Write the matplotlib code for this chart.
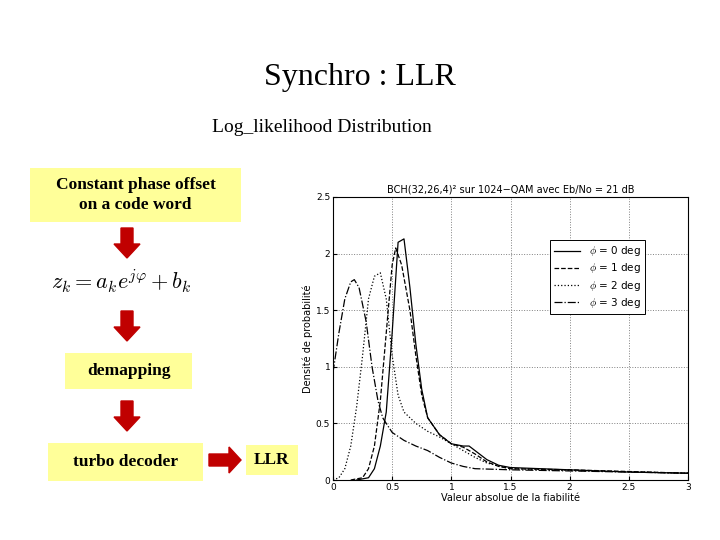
import matplotlib
matplotlib.use("Agg")
import matplotlib.pyplot as plt
from matplotlib.patches import Rectangle, FancyArrow

x0 = [0.2,0.3,0.35,0.4,0.45,0.5,0.55,0.6,0.65,0.7,0.75,0.8,0.9,1.0,1.1,1.15,1.2,1.3,1.4,1.5,2.0,2.5,3.0]
y0 = [0,0.02,0.1,0.3,0.6,1.3,2.1,2.13,1.7,1.2,0.8,0.55,0.4,0.32,0.3,0.3,0.26,0.18,0.13,0.11,0.09,0.07,0.06]
x1 = [0.15,0.25,0.3,0.35,0.4,0.45,0.5,0.53,0.58,0.65,0.7,0.75,0.8,0.9,1.0,1.1,1.2,1.3,1.4,1.5,2.0,3.0]
y1 = [0,0.02,0.1,0.3,0.7,1.3,1.9,2.05,1.9,1.5,1.1,0.75,0.55,0.4,0.32,0.29,0.23,0.16,0.12,0.1,0.09,0.06]
x2 = [0,0.05,0.1,0.15,0.2,0.25,0.3,0.35,0.4,0.45,0.5,0.55,0.6,0.7,0.8,0.9,1.0,1.1,1.2,1.3,1.5,2.0,3.0]
y2 = [0,0.02,0.1,0.3,0.65,1.1,1.6,1.8,1.83,1.6,1.1,0.75,0.6,0.5,0.43,0.38,0.32,0.26,0.2,0.15,0.1,0.085,0.06]
x3 = [0,0.05,0.1,0.15,0.18,0.22,0.28,0.33,0.38,0.42,0.45,0.5,0.6,0.7,0.8,0.9,1.0,1.1,1.2,1.5,2.0,3.0]
y3 = [0.95,1.3,1.6,1.75,1.77,1.7,1.4,1.0,0.7,0.55,0.5,0.42,0.35,0.3,0.26,0.2,0.15,0.12,0.1,0.09,0.08,0.06]
labels = [r"$\phi$ = 0 deg", r"$\phi$ = 1 deg", r"$\phi$ = 2 deg", r"$\phi$ = 3 deg"]

plt.rcParams["mathtext.fontset"] = "cm"
W, H = 720, 540
fig = plt.figure(figsize=(7.2, 5.4), dpi=100)
bg = fig.add_axes([0, 0, 1, 1])
bg.set_xlim(0, W); bg.set_ylim(H, 0); bg.axis("off")

serif = "Liberation Serif"
bg.text(360, 77, "Synchro : LLR", ha="center", va="center", fontsize=23, family=serif)
bg.text(322, 127, "Log_likelihood Distribution", ha="center", va="center", fontsize=14, family=serif)

yellow = "#FFFF99"
red = "#C00000"
def box(x, y, w, h, txt):
    bg.add_patch(Rectangle((x, y), w, h, facecolor=yellow, edgecolor="none"))
    bg.text(x + w / 2, y + h / 2, txt, ha="center", va="center", fontsize=12.5,
            family=serif, fontweight="bold", linespacing=1.3)
box(30, 168, 211, 54, "Constant phase offset\non a code word")
box(65, 353, 127, 36, "demapping")
box(48, 443, 155, 38, "turbo decoder")
box(246, 445, 52, 30, "LLR")

def down(xc, ytop):
    bg.add_patch(FancyArrow(xc, ytop, 0, 30, width=12, head_width=26, head_length=14,
                            length_includes_head=True, color=red))
down(127, 228); down(127, 311); down(127, 401)
bg.add_patch(FancyArrow(209, 460, 32, 0, width=12, head_width=26, head_length=12,
                        length_includes_head=True, color=red))
bg.text(121, 281, r"$z_k = a_k e^{j\varphi} + b_k$", ha="center", va="center", fontsize=16)

ax = fig.add_axes([333 / W, 1 - 480 / H, 355 / W, 283 / H])
ax.plot(x0, y0, "k-", lw=0.9, label=labels[0])
ax.plot(x1, y1, "k--", lw=0.9, label=labels[1])
ax.plot(x2, y2, "k:", lw=0.9, label=labels[2])
ax.plot(x3, y3, "k-.", lw=0.9, label=labels[3])
ax.set_xlim(0, 3); ax.set_ylim(0, 2.5)
ax.set_xticks([0, 0.5, 1, 1.5, 2, 2.5, 3])
ax.set_xticklabels(["0", "0.5", "1", "1.5", "2", "2.5", "3"])
ax.set_yticks([0, 0.5, 1, 1.5, 2, 2.5])
ax.set_yticklabels(["0", "0.5", "1", "1.5", "2", "2.5"])
ax.grid(True, linestyle=":", color="gray", lw=0.7)
ax.tick_params(labelsize=6.5, direction="in", length=3, pad=2)
ax.set_title("BCH(32,26,4)² sur 1024−QAM avec Eb/No = 21 dB", fontsize=7, pad=3)
ax.set_xlabel("Valeur absolue de la fiabilité", fontsize=7, labelpad=1)
ax.set_ylabel("Densité de probabilité", fontsize=7, labelpad=2)
leg = ax.legend(loc="upper right", bbox_to_anchor=(0.893, 0.866), fontsize=7.5, fancybox=False,
                edgecolor="black", framealpha=1, handlelength=2.5, borderpad=0.4, labelspacing=0.3)
leg.get_frame().set_linewidth(0.7)
for s in ax.spines.values():
    s.set_linewidth(0.8)

fig.savefig("out.png", dpi=100)
